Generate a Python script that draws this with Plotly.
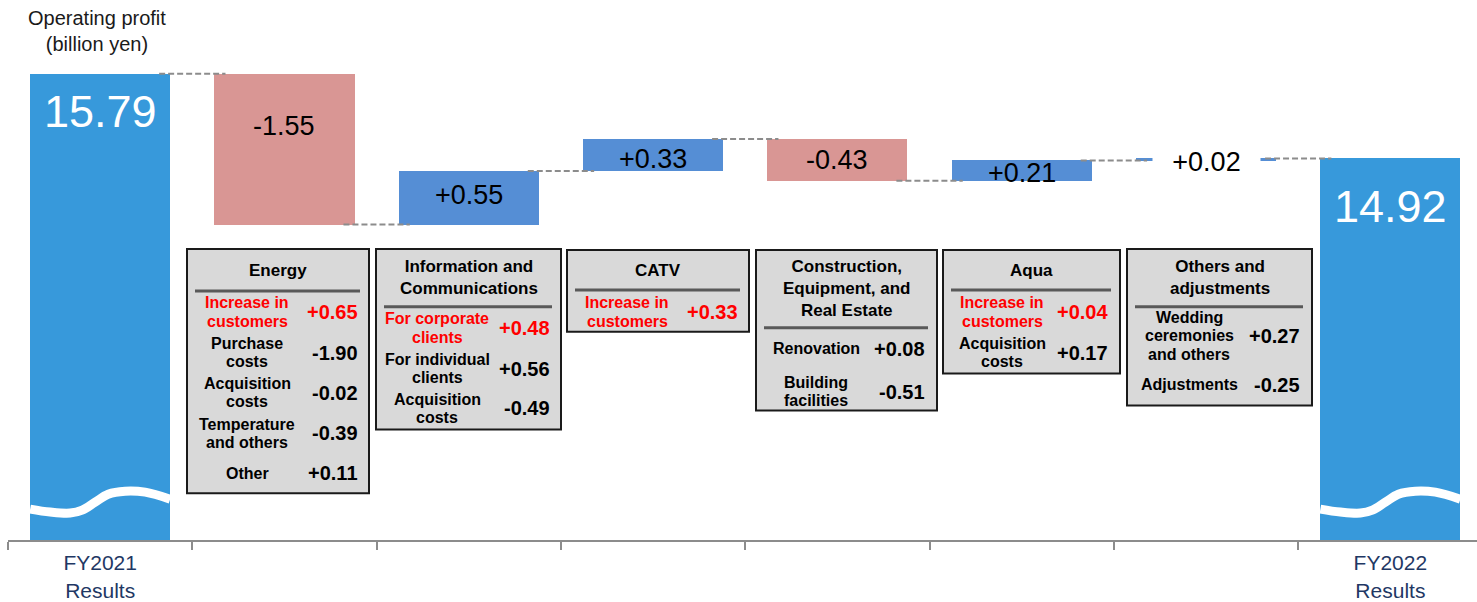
import plotly.graph_objects as go

# ---- Operating profit bridge (billion yen) ----
categories = ["FY2021<br>Results", "Energy", "Information and Communications", "CATV",
              "Construction, Equipment, and Real Estate", "Aqua", "Others and adjustments",
              "FY2022<br>Results"]
start_value = 15.79
changes = [-1.55, 0.55, 0.33, -0.43, 0.21, 0.02]
end_value = 14.92

# ---- Segment breakdown tables ----
segment_titles = ["Energy", "Information and<br>Communications", "CATV",
                  "Construction,<br>Equipment, and<br>Real Estate", "Aqua",
                  "Others and<br>adjustments"]
segment_items = [
    ["Increase in<br>customers", "Purchase<br>costs", "Acquisition<br>costs",
     "Temperature<br>and others", "Other"],
    ["For corporate<br>clients", "For individual<br>clients", "Acquisition<br>costs"],
    ["Increase in<br>customers"],
    ["Renovation", "Building<br>facilities"],
    ["Increase in<br>customers", "Acquisition<br>costs"],
    ["Wedding<br>ceremonies<br>and others", "Adjustments"],
]
segment_values = [
    [0.65, -1.90, -0.02, -0.39, 0.11],
    [0.48, 0.56, -0.49],
    [0.33],
    [0.08, -0.51],
    [0.04, 0.17],
    [0.27, -0.25],
]
highlight_first = [True, True, True, False, True, False]

# ---- Styling ----
FONT = "Liberation Sans, Arial, Helvetica, sans-serif"
TOTAL_COLOR = "#3799DB"
UP_COLOR = "#558ED5"
DOWN_COLOR = "#D99694"
CONNECTOR_COLOR = "#8C8C8C"
BOX_FILL = "#D9D9D9"
RED = "#FF0000"

W, H = 1477, 602
ML, MR, MT, MB = 8, 0, 0, 60
PLOT_W = W - ML - MR
PLOT_H = H - MT - MB
PX_PER_UNIT = 97.7
Y_MIN = 11.0
Y_MAX = Y_MIN + PLOT_H / PX_PER_UNIT
X_MIN, X_MAX = -0.5, 7.47
BAR_W = 0.76


def paper_x(px):
    return (px - ML) / PLOT_W


def paper_y(py):
    return 1 - (py - MT) / PLOT_H


def fmt(v):
    return f"{v:+.2f}"


# running levels after each step
levels = [start_value]
for c in changes:
    levels.append(round(levels[-1] + c, 2))

x_pos = list(range(len(categories)))

fig = go.Figure()

# totals (start / end)
fig.add_trace(go.Bar(
    x=[x_pos[0], x_pos[-1]], y=[start_value, end_value],
    width=BAR_W, marker=dict(color=TOTAL_COLOR, line=dict(width=0)),
    hoverinfo="skip", showlegend=False))

# floating change bars
bases = [min(levels[i], levels[i + 1]) for i in range(len(changes))]
heights = [abs(c) for c in changes]
colors = [UP_COLOR if c >= 0 else DOWN_COLOR for c in changes]
fig.add_trace(go.Bar(
    x=x_pos[1:-1], y=heights, base=bases, width=BAR_W,
    marker=dict(color=colors, line=dict(width=0)),
    hoverinfo="skip", showlegend=False))

# dashed connectors between consecutive bars
for i in range(len(levels)):
    x0 = x_pos[i] + BAR_W / 2 - 0.06
    x1 = x_pos[i + 1] - BAR_W / 2 + 0.06
    fig.add_trace(go.Scatter(
        x=[x0, x1], y=[levels[i], levels[i]], mode="lines",
        line=dict(color=CONNECTOR_COLOR, width=2, dash="6px,3px"),
        hoverinfo="skip", showlegend=False))

# axis-break wave across the total bars (offsets in px from bar centre / axis floor)
wave_dx = [-70, -50, -30, -18, -5, 8, 25, 45, 70]
wave_h = [31, 28, 27, 30, 38, 46, 49, 48, 41]
unit_x = (X_MAX - X_MIN) / PLOT_W
for xi in (x_pos[0], x_pos[-1]):
    fig.add_trace(go.Scatter(
        x=[xi + d * unit_x for d in wave_dx],
        y=[Y_MIN + h / PX_PER_UNIT for h in wave_h],
        mode="lines", line=dict(color="white", width=9, shape="spline"),
        hoverinfo="skip", showlegend=False))

annotations = []

# total labels
for xi, val, shift in ((x_pos[0], start_value, -38), (x_pos[-1], end_value, -48)):
    annotations.append(dict(
        x=xi, y=val, xref="x", yref="y", text=f"{val:.2f}", showarrow=False,
        xanchor="center", yanchor="middle", yshift=shift,
        font=dict(family=FONT, size=45, color="white")))

# change labels
label_shift = [23, 3, -4, 0, -2, -3]
for i, c in enumerate(changes):
    mid = bases[i] + heights[i] / 2
    ann = dict(
        x=x_pos[i + 1], y=mid, xref="x", yref="y", text=fmt(c), showarrow=False,
        xanchor="center", yanchor="middle", yshift=label_shift[i],
        font=dict(family=FONT, size=27, color="black"))
    if heights[i] < 0.1:
        ann.update(bgcolor="white", width=105)
    annotations.append(ann)

# axis title
annotations.append(dict(
    x=paper_x(97), y=paper_y(31), xref="paper", yref="paper",
    text="Operating profit<br>(billion yen)", showarrow=False,
    font=dict(family=FONT, size=20, color="#1A1A1A"),
    xanchor="center", yanchor="middle"))

# breakdown tables: left, top, right, bottom, separator y, row centre ys, label x, value right x
box_layout = [
    (187, 250, 369, 495, 292, [313, 354, 394, 435, 475], 247, 360),
    (376, 250, 561, 431, 308, [329, 370, 410], 437, 552),
    (567, 251, 749, 333, 291, [313], 627, 740),
    (756, 251, 937, 412, 329, [350, 393], 816, 927),
    (943, 251, 1120, 375, 291, [313, 354], 1002, 1110),
    (1127, 250, 1312, 407, 308, [337, 386], 1189, 1302),
]
LINE_GAP = 18.5

shapes = []
for k, (l, t, r, b, sep, rows, lx, vx) in enumerate(box_layout):
    shapes.append(dict(
        type="rect", xref="paper", yref="paper",
        x0=paper_x(l), x1=paper_x(r), y0=paper_y(b), y1=paper_y(t),
        fillcolor=BOX_FILL, line=dict(color="#1A1A1A", width=2), layer="above"))
    shapes.append(dict(
        type="line", xref="paper", yref="paper",
        x0=paper_x(l + 8), x1=paper_x(r - 9), y0=paper_y(sep), y1=paper_y(sep),
        line=dict(color="#595959", width=3), layer="above"))
    annotations.append(dict(
        x=paper_x((l + r) / 2), y=paper_y((t + sep) / 2), xref="paper", yref="paper",
        text=f"<b>{segment_titles[k]}</b>", showarrow=False,
        xanchor="center", yanchor="middle",
        font=dict(family=FONT, size=17, color="black")))
    for j, (item, val) in enumerate(zip(segment_items[k], segment_values[k])):
        color = RED if (j == 0 and highlight_first[k]) else "black"
        lines = item.split("<br>")
        y0 = rows[j] - (len(lines) - 1) * LINE_GAP / 2
        for n, line in enumerate(lines):
            annotations.append(dict(
                x=paper_x(lx), y=paper_y(y0 + n * LINE_GAP), xref="paper", yref="paper",
                text=f"<b>{line}</b>", showarrow=False,
                xanchor="center", yanchor="middle",
                font=dict(family=FONT, size=16, color=color)))
        annotations.append(dict(
            x=paper_x(vx), y=paper_y(rows[j]), xref="paper", yref="paper",
            text=f"<b>{fmt(val)}</b>", showarrow=False, xanchor="right",
            yanchor="middle", font=dict(family=FONT, size=20, color=color)))

fig.update_layout(
    width=W, height=H,
    margin=dict(l=ML, r=MR, t=MT, b=MB),
    paper_bgcolor="white", plot_bgcolor="white",
    barmode="overlay", bargap=0,
    showlegend=False,
    shapes=shapes, annotations=annotations,
    font=dict(family=FONT),
    xaxis=dict(
        range=[X_MIN, X_MAX], showgrid=False, zeroline=False,
        showline=True, linecolor="#8C8C8C", linewidth=2,
        tickvals=[x_pos[0], x_pos[-1]], ticktext=[categories[0], categories[-1]],
        ticks="", ticklabelstandoff=3,
        tickfont=dict(family=FONT, size=21, color="#1F3864"),
        minor=dict(tickvals=[p - 0.5 for p in x_pos], ticks="outside", ticklen=8,
                   tickcolor="#8C8C8C", tickwidth=2, showgrid=False),
    ),
    yaxis=dict(range=[Y_MIN, Y_MAX], visible=False, showgrid=False),
)

fig.write_html("out.html")
